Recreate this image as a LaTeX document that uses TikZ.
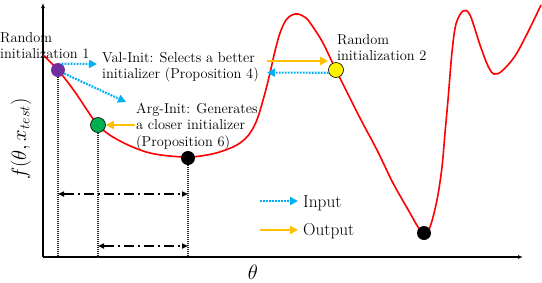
\documentclass[tikz,border=0pt]{standalone}
\usetikzlibrary{arrows.meta}
\definecolor{cblue}{HTML}{00B0F0}
\definecolor{corange}{HTML}{FFC000}
\definecolor{cpurple}{HTML}{7030A0}
\definecolor{cgreen}{HTML}{00B050}
\definecolor{cred}{HTML}{FF0000}
\begin{document}
\begin{tikzpicture}[x=1pt,y=-1pt,
  dotnode/.style={circle,inner sep=0pt,minimum size=14pt},
  inarrow/.style={cblue,line width=2.2pt,dash pattern=on 1.8pt off 1.2pt,-{Triangle[length=8pt,width=8pt]}},
  outarrow/.style={corange,line width=2.2pt,-{Triangle[length=8pt,width=8pt]}},
  gapline/.style={line width=1.6pt,dash pattern=on 10pt off 4pt on 2pt off 4pt,{Triangle[length=6pt,width=5pt]}-{Triangle[length=6pt,width=5pt]}},
  guide/.style={line width=1.2pt,black!85,dash pattern=on 1pt off 1pt},
  axis/.style={line width=1.2pt,-{Latex[length=5pt,width=4pt]}},
  lbl/.style={font=\fontsize{14.4}{16.5}\selectfont,align=left,anchor=north west,inner sep=0pt},
  legend/.style={font=\LARGE,anchor=base west,inner sep=0pt},
]
\useasboundingbox (0,0) rectangle (542,282);
% axes
\coordinate (O) at (43,257);
\coordinate (ytop) at (43,3);
\coordinate (xend) at (523,257);
\draw[axis] (O) -- (ytop);
\draw[axis] (O) -- (xend);
\node[font=\huge] (thl) at (253,272) {$\theta$};
\node[font=\huge,rotate=90] (fl) at (21,139) {$f(\theta, x_{test})$};
% curve
\draw[cred,line width=1.6pt] plot[smooth,tension=0.55] coordinates {
 (43,55) (58,70) (75,92) (98,125) (120,141) (150,153) (186,157) (212,154)
 (233,147) (245,139) (252,130) (258,117) (265,93) (270,73) (275,51) (280,33)
 (286,20) (292,15) (298,14) (306,18) (313,27) (323,43) (336,70) (360,118)
 (377,150) (393,183) (410,213) (418,227) (424,233) (430,227) (437,200)
 (442,167) (445,133) (448,100) (452,52) (456,24) (463,11) (470,15) (480,45)
 (488,66) (494,74) (502,71) (515,56) (528,32) (541,5)};
% dots
\node[dotnode,fill=cpurple] (pur) at (58,70) {};
\node[dotnode,fill=cgreen,draw=black,line width=0.6pt,minimum size=15pt] (grn) at (98,125) {};
\node[dotnode,fill=black] (min1) at (188,158) {};
\node[dotnode,fill=yellow,draw=black,line width=0.6pt,minimum size=15pt] (yel) at (336,70) {};
\node[dotnode,fill=black] (min2) at (424,233) {};
% guides
\draw[guide] (pur.south) -- (pur.south |- O);
\draw[guide] (grn.south) -- (grn.south |- O);
\draw[guide] (min1.south) -- (min1.south |- O);
% distance spans
\coordinate (s1a) at (58,194);
\coordinate (s1b) at (188,194);
\coordinate (s2a) at (98,246);
\coordinate (s2b) at (188,246);
\draw[gapline] (s1a) -- (s1b);
\draw[gapline] (s2a) -- (s2b);
% texts
\node[lbl] (r1) at (0,32) {Random\\initialization 1};
\node[lbl] (val) at (102,52) {Val-Init: Selects a better\\initializer (Proposition 4)};
\node[lbl] (arg) at (136,103) {Arg-Init: Generates\\a closer initializer\\(Proposition 6)};
\node[lbl] (r2) at (337,34) {Random\\initialization 2};
% arrows
\coordinate (b1e) at (97,64);
\coordinate (b2e) at (126,102);
\draw[inarrow] (pur.60) -- (b1e);
\draw[inarrow] (pur.-30) -- (b2e);
\coordinate (o1s) at (135,125);
\draw[outarrow] (o1s) -- (grn.east);
\coordinate (o2s) at (267,61);
\draw[outarrow] (o2s) -- (o2s -| yel.west);
\coordinate (b3e) at (267,72.6);
\draw[inarrow] (yel.200) -- (b3e);
% legend
\node[legend] (inp) at (303,207) {Input};
\node[legend] (outp) at (303,235) {Output};
\coordinate (li) at (260,201);
\coordinate (lo) at (260,230);
\draw[inarrow,shorten >=5pt] (li) -- (li -| inp.west);
\draw[outarrow,shorten >=5pt] (lo) -- (lo -| outp.west);
\end{tikzpicture}
\end{document}
